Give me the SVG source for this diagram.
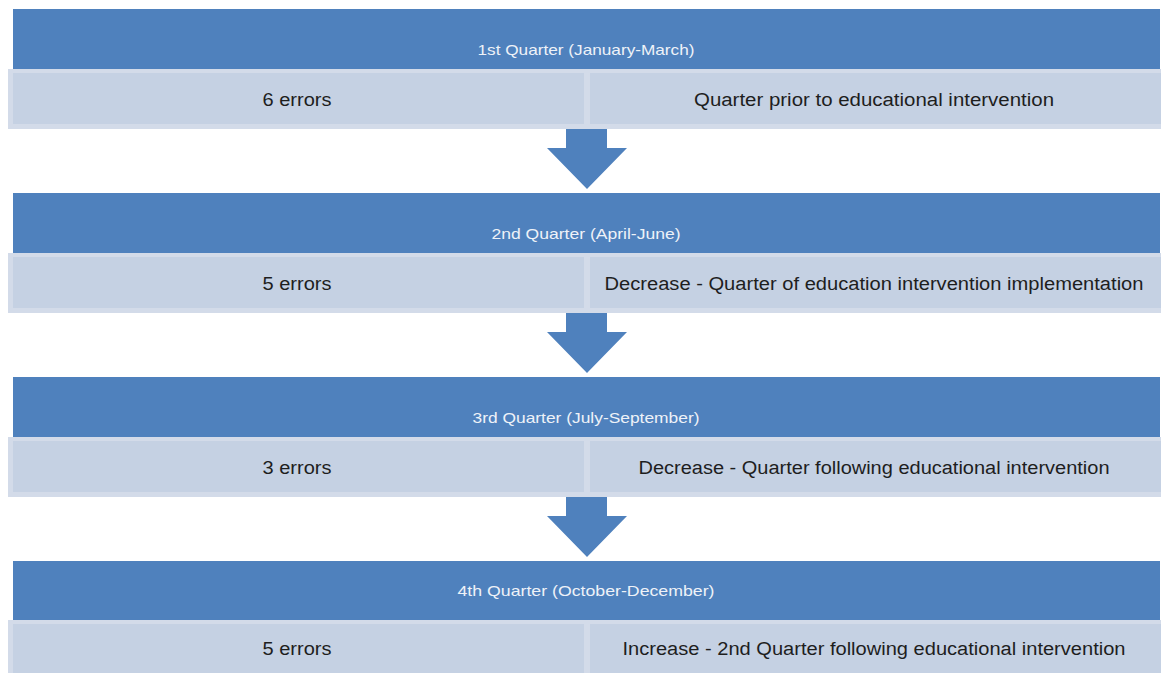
<svg xmlns="http://www.w3.org/2000/svg" width="1161" height="673" viewBox="0 0 1161 673">
<defs>
<style>
.hdr{fill:#4f81bd}
.cellb{fill:#d3dbe9}
.cell{fill:#c5d1e3}
.ht{font-family:"Liberation Sans",Arial,sans-serif;font-size:14.5px;fill:#eef2f8;text-anchor:middle}
.rt{font-family:"Liberation Sans",Arial,sans-serif;font-size:18px;fill:#1e1e1e;text-anchor:middle}
.arrow{fill:#4f81bd}
</style>
</defs>
<rect width="1161" height="673" fill="#ffffff"/>
<g id="q1">
<rect class="hdr" x="13" y="9" width="1147" height="60"/>
<rect class="cellb" x="8" y="69" width="579" height="60"/>
<rect class="cell" x="13" y="73" width="571" height="51"/>
<rect class="cellb" x="587" y="69" width="574" height="60"/>
<rect class="cell" x="590" y="73" width="571" height="51"/>
<text class="ht" x="586" y="55" textLength="217" lengthAdjust="spacingAndGlyphs">1st Quarter (January-March)</text>
<text class="rt" x="297" y="106" textLength="69" lengthAdjust="spacingAndGlyphs">6 errors</text>
<text class="rt" x="874" y="106" textLength="360" lengthAdjust="spacingAndGlyphs">Quarter prior to educational intervention</text>
</g>
<g id="q2">
<rect class="hdr" x="13" y="193" width="1147" height="60"/>
<rect class="cellb" x="8" y="253" width="579" height="60"/>
<rect class="cell" x="13" y="257" width="571" height="51"/>
<rect class="cellb" x="587" y="253" width="574" height="60"/>
<rect class="cell" x="590" y="257" width="571" height="51"/>
<text class="ht" x="586" y="239" textLength="189" lengthAdjust="spacingAndGlyphs">2nd Quarter (April-June)</text>
<text class="rt" x="297" y="290" textLength="69" lengthAdjust="spacingAndGlyphs">5 errors</text>
<text class="rt" x="874" y="290" textLength="539" lengthAdjust="spacingAndGlyphs">Decrease - Quarter of education intervention implementation</text>
</g>
<g id="q3">
<rect class="hdr" x="13" y="377" width="1147" height="60"/>
<rect class="cellb" x="8" y="437" width="579" height="60"/>
<rect class="cell" x="13" y="441" width="571" height="51"/>
<rect class="cellb" x="587" y="437" width="574" height="60"/>
<rect class="cell" x="590" y="441" width="571" height="51"/>
<text class="ht" x="586" y="423" textLength="227" lengthAdjust="spacingAndGlyphs">3rd Quarter (July-September)</text>
<text class="rt" x="297" y="474" textLength="69" lengthAdjust="spacingAndGlyphs">3 errors</text>
<text class="rt" x="874" y="474" textLength="471" lengthAdjust="spacingAndGlyphs">Decrease - Quarter following educational intervention</text>
</g>
<g id="q4">
<rect class="hdr" x="13" y="561" width="1147" height="59"/>
<rect class="cellb" x="8" y="620" width="579" height="53"/>
<rect class="cell" x="13" y="624" width="571" height="49"/>
<rect class="cellb" x="587" y="620" width="574" height="53"/>
<rect class="cell" x="590" y="624" width="571" height="49"/>
<text class="ht" x="586" y="596" textLength="257" lengthAdjust="spacingAndGlyphs">4th Quarter (October-December)</text>
<text class="rt" x="297" y="655" textLength="69" lengthAdjust="spacingAndGlyphs">5 errors</text>
<text class="rt" x="874" y="655" textLength="503" lengthAdjust="spacingAndGlyphs">Increase - 2nd Quarter following educational intervention</text>
</g>
<g id="connectors">
<polygon class="arrow" points="566,129 607,129 607,148 627,148 587,189 547,148 566,148"/>
<polygon class="arrow" points="566,313 607,313 607,332 627,332 587,373 547,332 566,332"/>
<polygon class="arrow" points="566,497 607,497 607,516 627,516 587,557 547,516 566,516"/>
</g>
</svg>
